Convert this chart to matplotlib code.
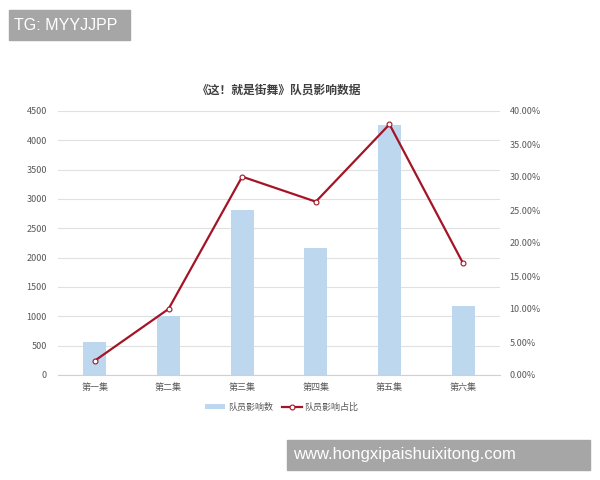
import matplotlib.pyplot as plt
from matplotlib.patches import Rectangle
from matplotlib.ticker import FuncFormatter

plt.rcParams["font.family"] = ["Noto Sans CJK SC", "DejaVu Sans"]

episodes = ["第一集", "第二集", "第三集", "第四集", "第五集", "第六集"]
influence_count = [560, 1010, 2820, 2170, 4260, 1180]
influence_share = [0.0217, 0.100, 0.3005, 0.2626, 0.3798, 0.169]

bar_color = "#bdd7ee"
line_color = "#a31526"
text_color = "#595959"
grid_color = "#e0e0e0"

fig = plt.figure(figsize=(6, 4.8), dpi=100)
ax = fig.add_axes([0.0967, 0.21875, 0.7366, 0.55])
ax2 = ax.twinx()

x = range(len(episodes))
bars = ax.bar(x, influence_count, width=0.31, color=bar_color, label="队员影响数", zorder=2)
line, = ax2.plot(x, influence_share, color=line_color, lw=1.6, marker="o", ms=3.5,
                 mfc="white", mec=line_color, mew=0.8, label="队员影响占比", zorder=3)

ax.set_xlim(-0.5, len(episodes) - 0.5)
ax.set_ylim(0, 4500)
ax.set_yticks(range(0, 4501, 500))
ax2.set_ylim(0, 0.40)
ax2.set_yticks([i * 0.05 for i in range(9)])
ax2.yaxis.set_major_formatter(FuncFormatter(lambda v, _: f"{v * 100:.2f}%"))

ax.set_xticks(list(x))
ax.set_xticklabels(episodes)
ax.yaxis.grid(True, color=grid_color, lw=0.8, zorder=0)
ax.set_axisbelow(True)

for a in (ax, ax2):
    for s in a.spines.values():
        s.set_visible(False)
    a.tick_params(length=0, labelsize=6.5, colors=text_color)
ax.spines["bottom"].set_visible(True)
ax.spines["bottom"].set_color("#d0d0d0")
ax.tick_params(axis="x", pad=6)
ax.tick_params(axis="y", pad=8)
ax2.tick_params(axis="y", pad=7)

fig.text(0.465, 0.812, "《这！就是街舞》队员影响数据", ha="center", va="center",
         fontsize=8.5, color="#404040", fontweight="bold")

fig.legend(handles=[bars, line], loc="center", bbox_to_anchor=(0.47, 0.152), ncol=2,
           frameon=False, fontsize=6.5, labelcolor=text_color, handlelength=2.2,
           handleheight=0.6, columnspacing=1.0, handletextpad=0.3)

# watermarks
fig.patches.append(Rectangle((9 / 600, 1 - 40 / 480), 121 / 600, 30 / 480,
                             transform=fig.transFigure, color="#a6a6a6", zorder=5))
fig.text(14 / 600, 1 - 25 / 480, "TG: MYYJJPP", color="white", fontsize=11.5,
         va="center", ha="left", family=["Liberation Sans", "DejaVu Sans"], zorder=6)
fig.patches.append(Rectangle((287 / 600, 1 - 470 / 480), 303 / 600, 30 / 480,
                             transform=fig.transFigure, color="#a6a6a6", zorder=5))
fig.text(293 / 600, 1 - 455 / 480, "www.hongxipaishuixitong.com", color="white",
         fontsize=12, va="center", ha="left", family=["Liberation Sans", "DejaVu Sans"], zorder=6)

fig.savefig("out.png", dpi=100)
